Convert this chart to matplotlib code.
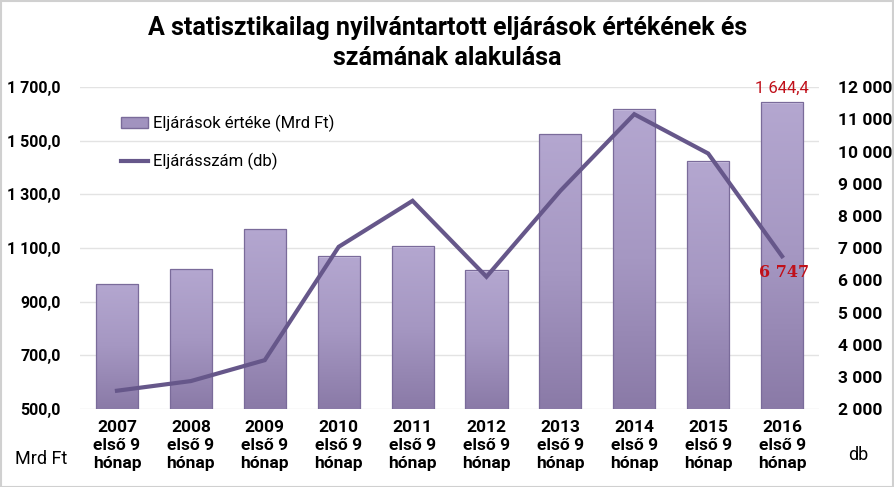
import numpy as np
import matplotlib
matplotlib.use("Agg")
import matplotlib.pyplot as plt
from matplotlib.colors import LinearSegmentedColormap
from matplotlib.patches import Patch, Rectangle
from matplotlib.lines import Line2D
from matplotlib.ticker import FuncFormatter

plt.rcParams['font.family'] = ['Roboto', 'DejaVu Sans']

# data
years = ['2007', '2008', '2009', '2010', '2011', '2012', '2013', '2014', '2015', '2016']
ertek = [968, 1024, 1173, 1071, 1108, 1017, 1526, 1618, 1423, 1644.4]   # Mrd Ft
szam = [2570, 2870, 3520, 7040, 8470, 6110, 8780, 11160, 9940, 6747]    # db

labels = [y + '\nelső 9\nhónap' for y in years]

bar_col = '#a193bf'
line_col = '#66578a'
red = '#c0101a'

fig = plt.figure(figsize=(8.95, 4.87), dpi=100)
ax = fig.add_axes([0.0894, 0.160, 0.8257, 0.661])
ax2 = ax.twinx()

x = np.arange(len(years))
w = 0.57
bars = ax.bar(x, ertek, width=w, color=bar_col, linewidth=0, zorder=2)

# vertical gradient on each bar
cmap = LinearSegmentedColormap.from_list('g', ['#b4a7d0', '#a597c2', '#8a7aa7'])
grad = np.linspace(0, 1, 256).reshape(-1, 1)
for b in bars:
    x0 = b.get_x()
    im = ax.imshow(grad, extent=[x0, x0 + b.get_width(), 500, b.get_height()],
                   aspect='auto', cmap=cmap, origin='upper', zorder=2.5)
    im.set_clip_path(b)
    # light top rim
    ax.add_patch(Rectangle((x0, b.get_height() - 6), b.get_width(), 6,
                           color='#c9bfe0', zorder=2.6, linewidth=0))
# outlines on top of the gradient
ax.bar(x, ertek, width=w, fill=False, edgecolor='#7a6b9a', linewidth=0.9, zorder=2.7)

ax.set_xlim(-0.5, len(years) - 0.5)
ax.set_ylim(500, 1700)
ax.set_yticks(np.arange(500, 1701, 200))
ax.yaxis.set_major_formatter(FuncFormatter(
    lambda v, p: f'{v:,.1f}'.replace(',', ' ').replace('.', ',')))
ax.set_xticks(x)
ax.set_xticklabels(labels, fontsize=12.5, fontweight='bold', linespacing=1.25)
ax.grid(axis='y', color='#e3e3e3', linewidth=1, zorder=0)
ax.set_axisbelow(True)

ax2.plot(x, szam, color=line_col, linewidth=3, zorder=3, solid_joinstyle='miter')
ax2.set_ylim(2000, 12000)
ax2.set_yticks(np.arange(2000, 12001, 1000))
ax2.yaxis.set_major_formatter(FuncFormatter(
    lambda v, p: f'{int(v):,}'.replace(',', ' ')))

for a in (ax, ax2):
    for s in a.spines.values():
        s.set_visible(False)
    a.tick_params(length=0)
ax.tick_params(axis='y', labelsize=11.5, pad=14)
ax2.tick_params(axis='y', labelsize=12.5, pad=14)
ax.tick_params(axis='x', pad=8)
for a in (ax, ax2):
    for t in a.get_yticklabels():
        t.set_fontweight('bold')

# value labels on last point
ax.text(x[-1], ertek[-1] + 22, f'{ertek[-1]:,.1f}'.replace(',', ' ').replace('.', ','),
        ha='center', va='bottom', color=red, fontsize=12)
ax2.text(x[-1] + 0.03, szam[-1] - 230, f'{szam[-1]:,}'.replace(',', ' '),
         ha='center', va='top', color=red, fontsize=11.5, fontweight='bold',
         family='DejaVu Serif', zorder=5)

handles = [Patch(facecolor=bar_col, edgecolor='#7a6b9a'),
           Line2D([0], [0], color=line_col, linewidth=3)]
ax2.legend(handles, ['Eljárások értéke (Mrd Ft)', 'Eljárásszám (db)'],
           loc='upper left', bbox_to_anchor=(0.035, 0.96), frameon=False,
           fontsize=12, labelspacing=1.25, handlelength=1.6, handletextpad=0.3)

fig.text(0.5, 0.968, 'A statisztikailag nyilvántartott eljárások értékének és\nszámának alakulása',
         ha='center', va='top', fontsize=18, fontweight='bold', linespacing=1.35)
fig.text(0.017, 0.058, 'Mrd Ft', fontsize=13, va='center')
fig.text(0.948, 0.065, 'db', fontsize=13, va='center')

fig.patches.append(Rectangle((0.001, 0.001), 0.997, 0.997, transform=fig.transFigure,
                             fill=False, edgecolor='#d0d0d0', linewidth=1.5))

fig.savefig('out.png', dpi=100)
